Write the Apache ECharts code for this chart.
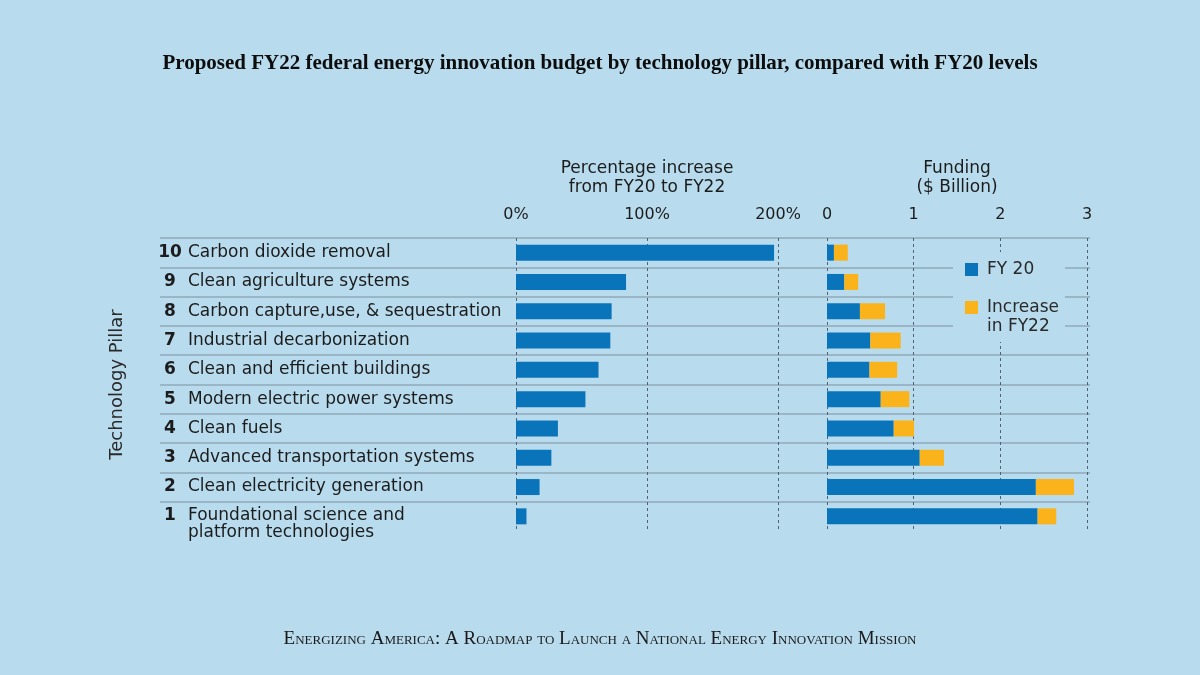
<!DOCTYPE html>
<html>
<head>
<meta charset="utf-8">
<script src="https://cdn.jsdelivr.net/npm/echarts@6/dist/echarts.min.js"></script>
<style>
html,body{margin:0;padding:0;background:#b8dcee;}
#chart{width:1200px;height:675px;}
</style>
</head>
<body>
<div id="chart"></div>
<script>
// ---- data (top row to bottom row) ----
const pillarNumbers = ['10', '9', '8', '7', '6', '5', '4', '3', '2', '1'];
const categories = [
  'Carbon dioxide removal',
  'Clean agriculture systems',
  'Carbon capture,use, & sequestration',
  'Industrial decarbonization',
  'Clean and efficient buildings',
  'Modern electric power systems',
  'Clean fuels',
  'Advanced transportation systems',
  'Clean electricity generation',
  'Foundational science and\nplatform technologies'
];
// Percentage increase from FY20 to FY22 (%)
const pctIncrease = [197, 84, 73, 72, 63, 53, 32, 27, 18, 8];
// Funding ($ Billion)
const fy20 = [0.08, 0.20, 0.38, 0.50, 0.49, 0.62, 0.77, 1.07, 2.41, 2.43];
const increaseFY22 = [0.16, 0.16, 0.29, 0.35, 0.32, 0.33, 0.235, 0.28, 0.44, 0.215];
const pctTicks = [0, 100, 200];
const fundingTicks = [0, 1, 2, 3];

const BG = '#b8dcee';
const BLUE = '#0a74bb';
const ORANGE = '#fbb31c';
const TEXT = '#1c1c1c';
const SANS = '"DejaVu Sans", sans-serif';
const SEP = '#8fa8b8';
const DASH = '#4e6272';

const chart = echarts.init(document.getElementById('chart'), null, {renderer: 'canvas'});

const dashedSplit = {
  show: true,
  lineStyle: {color: DASH, width: 1, type: [3, 3]}
};

const option = {
  backgroundColor: BG,
  animation: false,
  title: [
    {
      text: 'Proposed FY22 federal energy innovation budget by technology pillar, compared with FY20 levels',
      left: 'center',
      top: 48,
      textStyle: {fontFamily: '"Liberation Serif", serif', fontWeight: 'bold', fontSize: 21, color: '#0d0d0d'}
    },
    {
      text: 'Energizing America: A Roadmap to Launch a National Energy Innovation Mission',
      left: 'center',
      top: 625,
      textStyle: {fontFamily: '"Liberation Serif", serif', fontStyle: 'small-caps', fontWeight: 'normal', fontSize: 19, color: '#1a1a1a'}
    }
  ],
  legend: {
    data: ['FY 20', 'Increase in FY22'],
    formatter: function (name) { return name === 'Increase in FY22' ? '\nIncrease\nin FY22' : name; },
    orient: 'vertical',
    left: 953,
    top: 252,
    itemWidth: 13,
    itemHeight: 13,
    itemGap: 0,
    padding: [8, 6, 6, 12],
    backgroundColor: BG,
    selectedMode: false,
    icon: 'rect',
    textStyle: {fontFamily: SANS, fontSize: 17, color: '#2a2a2a', lineHeight: 19, padding: [0, 0, 0, 4]},
    z: 10
  },
  grid: [
    {left: 516, width: 262, top: 238, height: 293, outerBoundsMode: 'none'},
    {left: 827, width: 260, top: 238, height: 293, outerBoundsMode: 'none'},
    {left: 160, right: 110, top: 238, height: 293, outerBoundsMode: 'none'}
  ],
  xAxis: [
    {
      gridIndex: 0, type: 'value', position: 'top',
      min: pctTicks[0], max: pctTicks[pctTicks.length - 1], interval: 100,
      name: 'Percentage increase\nfrom FY20 to FY22',
      nameLocation: 'middle', nameGap: 41,
      nameTextStyle: {fontFamily: SANS, fontSize: 17, color: TEXT, lineHeight: 19},
      axisLine: {show: false}, axisTick: {show: false},
      axisLabel: {formatter: '{value}%', fontFamily: SANS, fontSize: 16, color: TEXT, margin: 15},
      splitLine: dashedSplit
    },
    {
      gridIndex: 1, type: 'value', position: 'top',
      min: fundingTicks[0], max: fundingTicks[fundingTicks.length - 1], interval: 1,
      name: 'Funding\n($ Billion)',
      nameLocation: 'middle', nameGap: 41,
      nameTextStyle: {fontFamily: SANS, fontSize: 17, color: TEXT, lineHeight: 19},
      axisLine: {show: false}, axisTick: {show: false},
      axisLabel: {fontFamily: SANS, fontSize: 16, color: TEXT, margin: 15},
      splitLine: dashedSplit
    },
    {
      gridIndex: 2, type: 'value', show: false, min: 0, max: 1
    }
  ],
  yAxis: [
    {
      gridIndex: 0, type: 'category', inverse: true, data: categories,
      name: 'Technology Pillar', nameLocation: 'middle', nameRotate: 90, nameGap: 390,
      nameTextStyle: {fontFamily: SANS, fontSize: 18, color: '#2a2a2a'},
      axisLine: {show: false}, axisTick: {show: false}, splitLine: {show: false},
      axisLabel: {
        interval: 0, align: 'left', margin: 356,
        formatter: function (value, index) {
          const lines = value.split('\n');
          if (lines.length > 1) {
            return '{nb|' + pillarNumbers[index] + '}{spb|}{tb|' + lines[0] + '}\n{ind|}{t2|' + lines[1] + '}';
          }
          return '{num|' + pillarNumbers[index] + '}{sp|}{txt|' + value + '}';
        },
        rich: {
          num: {fontFamily: SANS, fontWeight: 'bold', fontSize: 17, color: TEXT, width: 20, align: 'right'},
          sp: {width: 8},
          txt: {fontFamily: SANS, fontSize: 17, color: TEXT},
          nb: {fontFamily: SANS, fontWeight: 'bold', fontSize: 17, color: TEXT, width: 20, align: 'right', lineHeight: 32, verticalAlign: 'bottom'},
          spb: {width: 8, lineHeight: 32},
          tb: {fontFamily: SANS, fontSize: 17, color: TEXT, lineHeight: 32, verticalAlign: 'bottom'},
          ind: {width: 28, lineHeight: 17},
          t2: {fontFamily: SANS, fontSize: 17, color: TEXT, lineHeight: 17}
        }
      }
    },
    {
      gridIndex: 1, type: 'category', inverse: true, data: categories,
      axisLine: {show: false}, axisTick: {show: false}, axisLabel: {show: false}, splitLine: {show: false}
    },
    {
      gridIndex: 2, type: 'category', inverse: true, data: categories,
      axisLine: {show: false}, axisTick: {show: false}, axisLabel: {show: false},
      splitLine: {show: true, showMinLine: true, showMaxLine: false, lineStyle: {color: SEP, width: 1.5}}
    }
  ],
  series: [
    {
      name: 'Percentage increase', type: 'bar', xAxisIndex: 0, yAxisIndex: 0,
      data: pctIncrease, barWidth: 16, itemStyle: {color: BLUE}, z: 3
    },
    {
      name: 'FY 20', type: 'bar', stack: 'fund', xAxisIndex: 1, yAxisIndex: 1,
      data: fy20, barWidth: 16, itemStyle: {color: BLUE}, z: 3
    },
    {
      name: 'Increase in FY22', type: 'bar', stack: 'fund', xAxisIndex: 1, yAxisIndex: 1,
      data: increaseFY22, barWidth: 16, itemStyle: {color: ORANGE}, z: 3
    }
  ]
};
chart.setOption(option);
</script>
</body>
</html>
